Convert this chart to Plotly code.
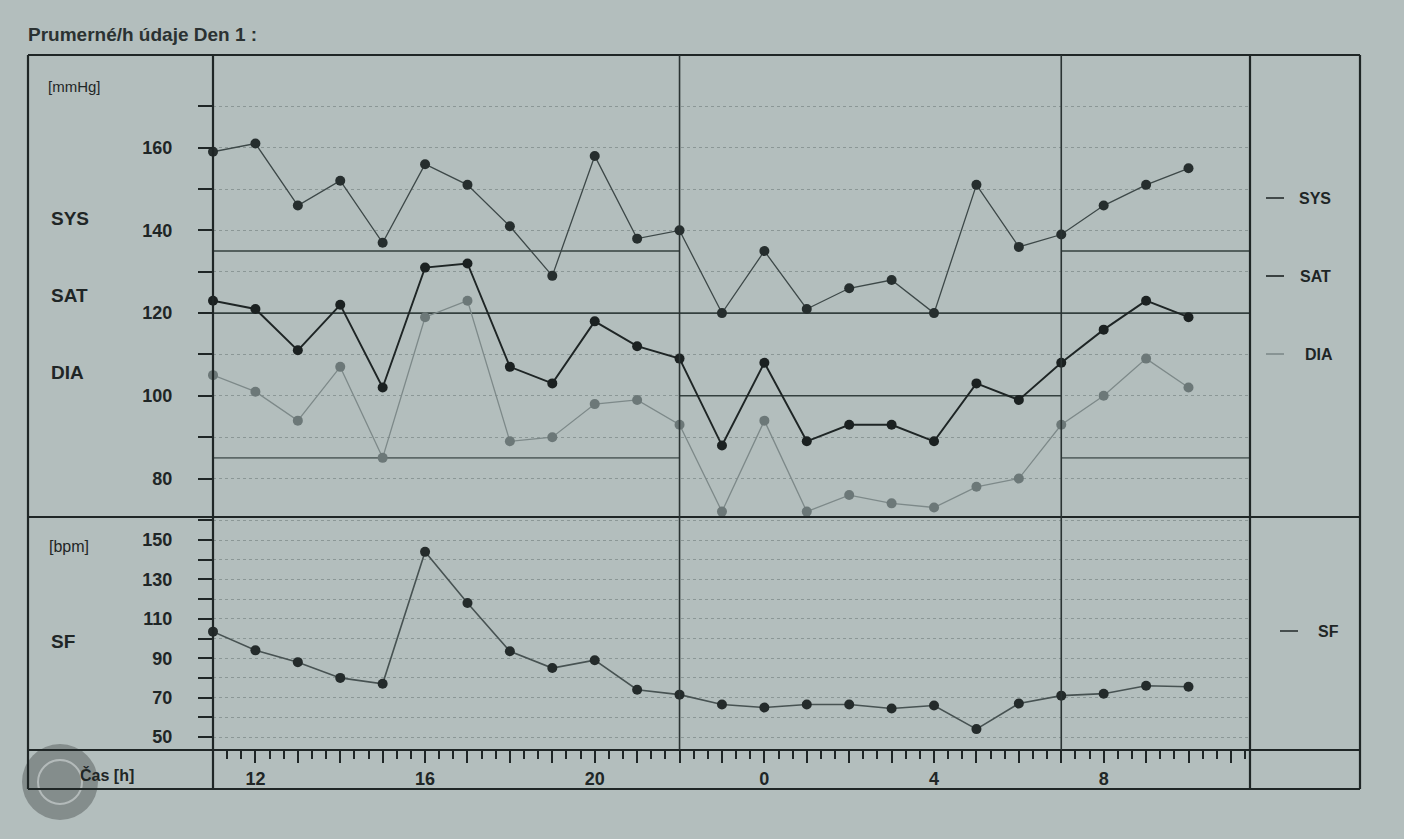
import numpy as np
import plotly.graph_objects as go

# ---------------- data ----------------
hours = [11, 12, 13, 14, 15, 16, 17, 18, 19, 20, 21, 22,
         23, 24, 25, 26, 27, 28, 29, 30, 31, 32, 33, 34]   # 24+ = next day
tick_hours = [12, 16, 20, 24, 28, 32]
tick_labels = ["12", "16", "20", "0", "4", "8"]

sys_vals = [159, 161, 146, 152, 137, 156, 151, 141, 129, 158, 138, 140,
            120, 135, 121, 126, 128, 120, 151, 136, 139, 146, 151, 155]
sat_vals = [123, 121, 111, 122, 102, 131, 132, 107, 103, 118, 112, 109,
            88, 108, 89, 93, 93, 89, 103, 99, 108, 116, 123, 119]
dia_vals = [105, 101, 94, 107, 85, 119, 123, 89, 90, 98, 99, 93,
            72, 94, 72, 76, 74, 73, 78, 80, 93, 100, 109, 102]
sf_vals = [103.5, 94, 88, 80, 77, 144, 118, 93.5, 85, 89, 74, 71.5,
           66.5, 65, 66.5, 66.5, 64.5, 66, 54, 67, 71, 72, 76, 75.5]

limit_starts = [11, 11, 11, 22, 31, 31]
limit_ends = [22, 22, 35.45, 31, 35.45, 35.45]
limit_values = [135, 85, 120, 100, 135, 85]
limit_colors = ["#34403f", "#5d6968", "#34403f", "#34403f", "#34403f", "#5d6968"]

period_bounds = [22, 31]

bp_ticks = [80, 100, 120, 140, 160]
bp_minor = [90, 110, 130, 150, 170]
hr_ticks = [50, 70, 90, 110, 130, 150]
hr_minor = [60, 80, 100, 120, 140, 160]

# ---------------- geometry ----------------
W, H = 1404, 839
def px(x):
    return x / W
def py(y):
    return 1 - y / H

L, R, T, B = 28, 1360, 55, 789
C1, C2 = 213, 1250
R1, R2 = 517, 750

BG = "#b3bebd"
INK = "#1f2626"
FONT = "Liberation Sans, Arial, sans-serif"

fig = go.Figure()

# limit lines
for s, e, v, c in zip(limit_starts, limit_ends, limit_values, limit_colors):
    fig.add_trace(go.Scatter(x=[s, e], y=[v, v], mode="lines",
                             line=dict(color=c, width=1.6),
                             xaxis="x", yaxis="y", hoverinfo="skip",
                             showlegend=False))

fig.add_trace(go.Scatter(x=hours, y=dia_vals, mode="lines+markers", name="DIA",
                         line=dict(color="#7d8989", width=1.3),
                         marker=dict(color="#6c7878", size=10),
                         xaxis="x", yaxis="y", cliponaxis=False, showlegend=False))
fig.add_trace(go.Scatter(x=hours, y=sys_vals, mode="lines+markers", name="SYS",
                         line=dict(color="#3d4848", width=1.3),
                         marker=dict(color="#262e2e", size=10),
                         xaxis="x", yaxis="y", cliponaxis=False, showlegend=False))
fig.add_trace(go.Scatter(x=hours, y=sat_vals, mode="lines+markers", name="SAT",
                         line=dict(color="#1e2525", width=1.9),
                         marker=dict(color="#1b2121", size=10),
                         xaxis="x", yaxis="y", cliponaxis=False, showlegend=False))
fig.add_trace(go.Scatter(x=hours, y=sf_vals, mode="lines+markers", name="SF",
                         line=dict(color="#475252", width=1.6),
                         marker=dict(color="#242b2b", size=10),
                         xaxis="x2", yaxis="y2", cliponaxis=False, showlegend=False))

xrange = [11, 35.45]
xdom = [px(C1), px(C2)]
minor_x = list(np.arange(11, 35.45, 1 / 3))
hour_ticks = list(range(11, 36))
hour_text = [tick_labels[tick_hours.index(h)] if h in tick_hours else "" for h in hour_ticks]

GRIDC = "rgba(80,92,92,0.4)"
grid = dict(showgrid=True, gridcolor=GRIDC, griddash="dot", gridwidth=1)
tickfont = dict(family=FONT, size=18, color=INK, weight="bold")

fig.update_layout(
    width=W, height=H,
    margin=dict(l=0, r=0, t=0, b=0),
    paper_bgcolor=BG, plot_bgcolor=BG,
    showlegend=False,
    xaxis=dict(domain=xdom, range=xrange, anchor="y", showticklabels=False,
               ticks="", showgrid=False, zeroline=False, showline=False),
    yaxis=dict(domain=[py(R1), py(T)], range=[70.7, 182.4], anchor="x",
               tickmode="array", tickvals=bp_ticks, ticks="outside", ticklen=14,
               tickwidth=2, tickcolor=INK, tickfont=tickfont, ticklabelstandoff=22,
               zeroline=False, showline=False, **grid,
               minor=dict(tickmode="array", tickvals=bp_minor, ticks="outside",
                          ticklen=14, tickwidth=2, tickcolor=INK,
                          showgrid=True, gridcolor=GRIDC,
                          griddash="dot", gridwidth=1)),
    xaxis2=dict(domain=xdom, range=xrange, anchor="y2",
                tickmode="array", tickvals=hour_ticks, ticktext=hour_text,
                ticks="outside", ticklen=12, tickwidth=2, tickcolor=INK,
                tickfont=tickfont, ticklabelstandoff=0,
                showgrid=False, zeroline=False, showline=False,
                minor=dict(tickmode="array", tickvals=minor_x, ticks="outside",
                           ticklen=8, tickwidth=1.5, tickcolor=INK, showgrid=False)),
    yaxis2=dict(domain=[py(R2), py(R1)], range=[43.4, 161.7], anchor="x2",
                tickmode="array", tickvals=hr_ticks, ticks="outside", ticklen=14,
                tickwidth=2, tickcolor=INK, tickfont=tickfont, ticklabelstandoff=22,
                zeroline=False, showline=False, **grid,
                minor=dict(tickmode="array", tickvals=hr_minor, ticks="outside",
                           ticklen=14, tickwidth=2, tickcolor=INK,
                           showgrid=True, gridcolor=GRIDC,
                           griddash="dot", gridwidth=1)),
)

shapes = []
def pline(x0, y0, x1, y1, w=2.2, c=INK):
    shapes.append(dict(type="line", xref="paper", yref="paper",
                       x0=px(x0), y0=py(y0), x1=px(x1), y1=py(y1),
                       line=dict(color=c, width=w), layer="above"))

# outer frame and table grid
pline(L, T, R, T)
pline(L, B, R, B)
pline(L, T, L, B)
pline(R, T, R, B)
pline(C1, T, C1, B)
pline(C2, T, C2, B)
pline(L, R1, R, R1)
pline(L, R2, R, R2)

# day / night boundaries spanning both panels
for b in period_bounds:
    shapes.append(dict(type="line", xref="x", yref="paper", x0=b, x1=b,
                       y0=py(R2), y1=py(T), line=dict(color="#2a3333", width=1.6),
                       layer="above"))

# legend dashes in right column
for y, c in [(198, "#262e2e"), (276, "#1b2121"), (354, "#7d8989"), (631, "#2a3232")]:
    x0 = 1266 if y < 500 else 1280
    pline(x0, y, x0 + 18, y, w=1.6, c=c)

# watermark gear blob (decorative, no text)
shapes.append(dict(type="circle", xref="paper", yref="paper",
                   x0=px(22), x1=px(98), y0=py(820), y1=py(744),
                   fillcolor="rgba(85,92,92,0.5)", line=dict(width=0), layer="below"))
shapes.append(dict(type="circle", xref="paper", yref="paper",
                   x0=px(38), x1=px(82), y0=py(804), y1=py(760),
                   fillcolor="rgba(0,0,0,0)", line=dict(color="rgba(200,205,205,0.7)", width=2),
                   layer="below"))
fig.update_layout(shapes=shapes)

ann = []
def text(x, y, s, size=19, bold=True, xanchor="left", color=INK):
    ann.append(dict(x=px(x), y=py(y), xref="paper", yref="paper", text=s,
                    showarrow=False, xanchor=xanchor, yanchor="middle",
                    font=dict(family=FONT, size=size, color=color,
                              weight="bold" if bold else "normal")))

text(26, 35, "Prumerné/h údaje Den 1 :", size=19, bold=True, color="#2b3232")
text(46, 86, "[mmHg]", size=15, bold=False)
text(49, 218, "SYS", size=19)
text(49, 295, "SAT", size=19)
text(49, 372, "DIA", size=19)
text(47, 546, "[bpm]", size=16, bold=False)
text(49, 641, "SF", size=19)
text(78, 775, "Čas [h]", size=16)
text(1297, 198, "SYS", size=16)
text(1298, 276, "SAT", size=16)
text(1303, 354, "DIA", size=16)
text(1316, 631, "SF", size=16)
fig.update_layout(annotations=ann)

fig.write_html(
    "out.html",
    config={"displayModeBar": False},
    post_script="document.body.style.margin='0';document.body.style.padding='0';"
                "document.body.style.overflow='hidden';"
                "document.body.style.background='" + BG + "';",
)
